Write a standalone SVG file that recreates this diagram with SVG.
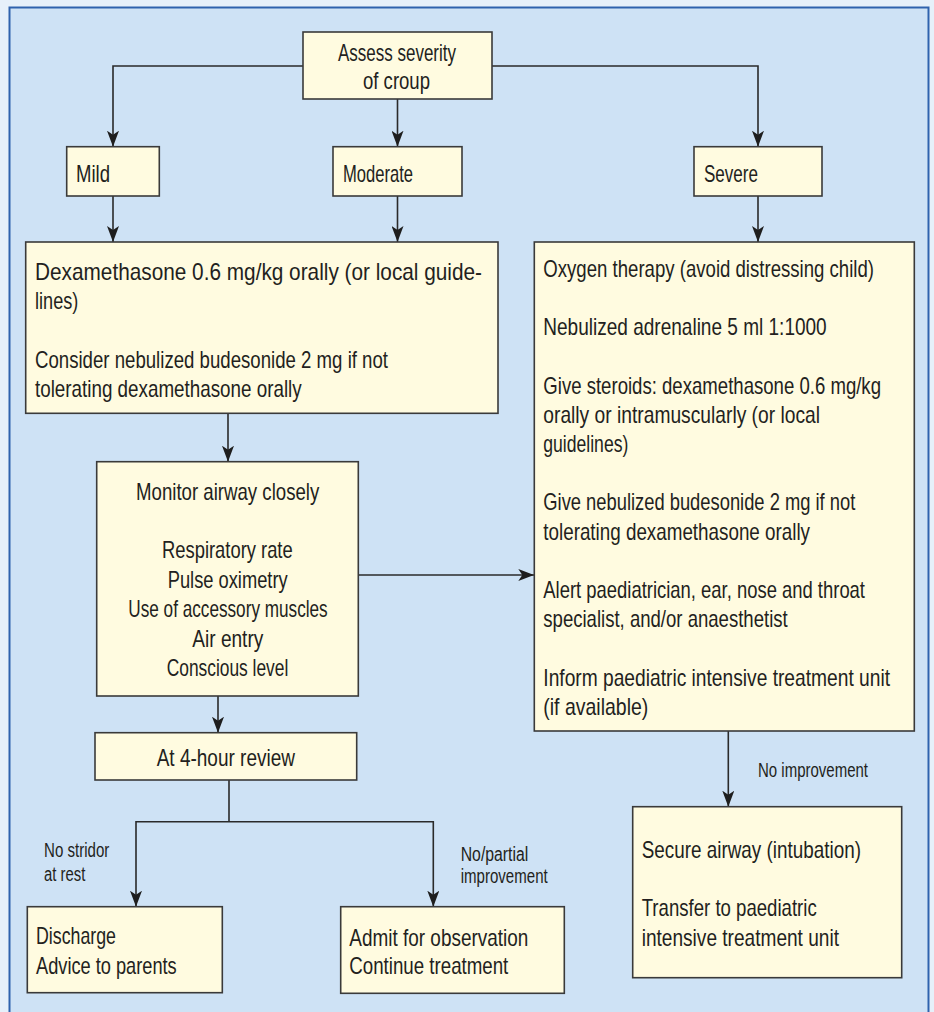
<svg xmlns="http://www.w3.org/2000/svg" width="934" height="1012" viewBox="0 0 934 1012">
<defs>
<style>
.bg{fill:#e6f0fa}
.panel{fill:#cee2f5;stroke:#2f62ad;stroke-width:2}
.box{fill:#fffbe0;stroke:#3a3a3a;stroke-width:1.6}
.t{font-family:"Liberation Sans",Arial,sans-serif;font-size:24px;fill:#231f20}
.s{font-family:"Liberation Sans",Arial,sans-serif;font-size:19.5px;fill:#231f20}
.c{fill:none;stroke:#2a2a2a;stroke-width:1.6}
</style>
<marker id="ah" viewBox="0 0 16 12" refX="16" refY="6" markerWidth="16" markerHeight="12" markerUnits="userSpaceOnUse" orient="auto">
<path d="M0,0 L16,6 L0,12 L4,6 Z" fill="#1e1e1e"/>
</marker>
</defs>
<rect class="bg" x="0" y="0" width="934" height="1012"/>
<rect class="panel" x="9.5" y="7.5" width="919" height="1020"/>

<g id="connectors">
<path class="c" d="M303,66 H113 V146.7" marker-end="url(#ah)"/>
<path class="c" d="M397.5,99 V146.7" marker-end="url(#ah)"/>
<path class="c" d="M492,66 H758 V146.7" marker-end="url(#ah)"/>
<path class="c" d="M113,196 V242" marker-end="url(#ah)"/>
<path class="c" d="M397.5,196 V242" marker-end="url(#ah)"/>
<path class="c" d="M758,196 V242" marker-end="url(#ah)"/>
<path class="c" d="M228,413.3 V461.7" marker-end="url(#ah)"/>
<path class="c" d="M358.3,575 H534.3" marker-end="url(#ah)"/>
<path class="c" d="M218,696 V732.7" marker-end="url(#ah)"/>
<path class="c" d="M229,780 V821.7"/>
<path class="c" d="M229,821.7 H136 V906.7" marker-end="url(#ah)"/>
<path class="c" d="M229,821.7 H433.3 V906.7" marker-end="url(#ah)"/>
<path class="c" d="M728.3,731 V806.7" marker-end="url(#ah)"/>
<text class="s" x="758" y="776.7" textLength="110" lengthAdjust="spacingAndGlyphs">No improvement</text>
<text class="s" x="44" y="857.3" textLength="65.3" lengthAdjust="spacingAndGlyphs">No stridor</text>
<text class="s" x="44" y="880.7" textLength="41.3" lengthAdjust="spacingAndGlyphs">at rest</text>
<text class="s" x="460.7" y="861" textLength="67.6" lengthAdjust="spacingAndGlyphs">No/partial</text>
<text class="s" x="460.7" y="883.3" textLength="87" lengthAdjust="spacingAndGlyphs">improvement</text>
</g>

<g id="assess">
<rect class="box" x="303" y="32" width="189" height="67"/>
<text class="t" x="338" y="61" textLength="118" lengthAdjust="spacingAndGlyphs">Assess severity</text>
<text class="t" x="363" y="89" textLength="67" lengthAdjust="spacingAndGlyphs">of croup</text>
</g>

<g id="mild">
<rect class="box" x="66.7" y="146.7" width="92.6" height="49.3"/>
<text class="t" x="76" y="182" textLength="34" lengthAdjust="spacingAndGlyphs">Mild</text>
</g>

<g id="moderate">
<rect class="box" x="333" y="146.7" width="129" height="49.3"/>
<text class="t" x="343" y="182" textLength="70" lengthAdjust="spacingAndGlyphs">Moderate</text>
</g>

<g id="severe">
<rect class="box" x="694" y="146.7" width="128" height="49.3"/>
<text class="t" x="704" y="182" textLength="54" lengthAdjust="spacingAndGlyphs">Severe</text>
</g>

<g id="dexamethasone">
<rect class="box" x="25.7" y="242" width="472.3" height="171.3"/>
<text class="t" x="35" y="280" textLength="447" lengthAdjust="spacingAndGlyphs">Dexamethasone 0.6 mg/kg orally (or local guide-</text>
<text class="t" x="35" y="309.2" textLength="43.3" lengthAdjust="spacingAndGlyphs">lines)</text>
<text class="t" x="35" y="367.6" textLength="353" lengthAdjust="spacingAndGlyphs">Consider nebulized budesonide 2 mg if not</text>
<text class="t" x="35" y="396.8" textLength="266.7" lengthAdjust="spacingAndGlyphs">tolerating dexamethasone orally</text>
</g>

<g id="oxygen">
<rect class="box" x="534.3" y="242" width="380" height="489"/>
<text class="t" x="543.3" y="276.7" textLength="330.7" lengthAdjust="spacingAndGlyphs">Oxygen therapy (avoid distressing child)</text>
<text class="t" x="543.3" y="335.1" textLength="283.4" lengthAdjust="spacingAndGlyphs">Nebulized adrenaline 5 ml 1:1000</text>
<text class="t" x="543.3" y="393.5" textLength="337.7" lengthAdjust="spacingAndGlyphs">Give steroids: dexamethasone 0.6 mg/kg</text>
<text class="t" x="543.3" y="422.7" textLength="276.7" lengthAdjust="spacingAndGlyphs">orally or intramuscularly (or local</text>
<text class="t" x="543.3" y="451.9" textLength="85" lengthAdjust="spacingAndGlyphs">guidelines)</text>
<text class="t" x="543.3" y="510.3" textLength="312" lengthAdjust="spacingAndGlyphs">Give nebulized budesonide 2 mg if not</text>
<text class="t" x="543.3" y="539.5" textLength="266.7" lengthAdjust="spacingAndGlyphs">tolerating dexamethasone orally</text>
<text class="t" x="543.3" y="597.9" textLength="321.7" lengthAdjust="spacingAndGlyphs">Alert paediatrician, ear, nose and throat</text>
<text class="t" x="543.3" y="627.1" textLength="244.4" lengthAdjust="spacingAndGlyphs">specialist, and/or anaesthetist</text>
<text class="t" x="543.3" y="685.5" textLength="346.7" lengthAdjust="spacingAndGlyphs">Inform paediatric intensive treatment unit</text>
<text class="t" x="543.3" y="714.7" textLength="105" lengthAdjust="spacingAndGlyphs">(if available)</text>
</g>

<g id="monitor">
<rect class="box" x="96.7" y="461.7" width="261.6" height="234.3"/>
<text class="t" x="136" y="500" textLength="183.3" lengthAdjust="spacingAndGlyphs">Monitor airway closely</text>
<text class="t" x="162" y="558.4" textLength="130.7" lengthAdjust="spacingAndGlyphs">Respiratory rate</text>
<text class="t" x="167.7" y="587.6" textLength="120" lengthAdjust="spacingAndGlyphs">Pulse oximetry</text>
<text class="t" x="128.3" y="616.8" textLength="199.4" lengthAdjust="spacingAndGlyphs">Use of accessory muscles</text>
<text class="t" x="192.3" y="646.5" textLength="71" lengthAdjust="spacingAndGlyphs">Air entry</text>
<text class="t" x="166.7" y="676" textLength="121.6" lengthAdjust="spacingAndGlyphs">Conscious level</text>
</g>

<g id="review">
<rect class="box" x="95" y="732.7" width="261.7" height="47.3"/>
<text class="t" x="156.7" y="765.7" textLength="138.3" lengthAdjust="spacingAndGlyphs">At 4-hour review</text>
</g>

<g id="discharge">
<rect class="box" x="27.3" y="906.7" width="195" height="86"/>
<text class="t" x="36" y="944.3" textLength="80" lengthAdjust="spacingAndGlyphs">Discharge</text>
<text class="t" x="36" y="974.3" textLength="140.7" lengthAdjust="spacingAndGlyphs">Advice to parents</text>
</g>

<g id="admit">
<rect class="box" x="340.7" y="906.7" width="223.6" height="86.6"/>
<text class="t" x="349.3" y="945.7" textLength="179" lengthAdjust="spacingAndGlyphs">Admit for observation</text>
<text class="t" x="349.3" y="974.3" textLength="159" lengthAdjust="spacingAndGlyphs">Continue treatment</text>
</g>

<g id="secure">
<rect class="box" x="632.7" y="806.7" width="269" height="171"/>
<text class="t" x="641.7" y="858" textLength="219.3" lengthAdjust="spacingAndGlyphs">Secure airway (intubation)</text>
<text class="t" x="641.7" y="916.4" textLength="175" lengthAdjust="spacingAndGlyphs">Transfer to paediatric</text>
<text class="t" x="641.7" y="945.6" textLength="197.3" lengthAdjust="spacingAndGlyphs">intensive treatment unit</text>
</g>
</svg>
